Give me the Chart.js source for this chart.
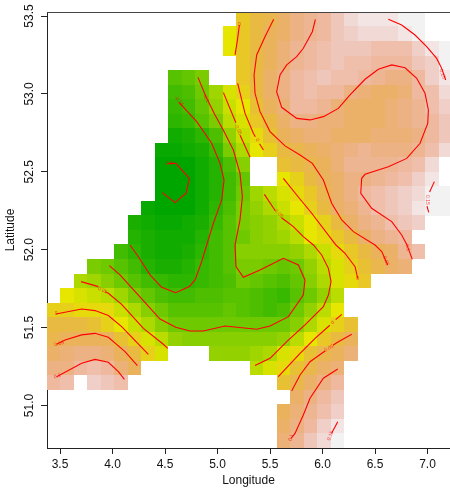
<!DOCTYPE html>
<html>
<head>
<meta charset="utf-8">
<style>html,body{margin:0;padding:0;background:#fff;overflow:hidden}canvas{display:block}</style>
<script src="https://cdn.jsdelivr.net/npm/chart.js@4/dist/chart.umd.min.js"></script>
</head>
<body>
<canvas id="map" width="450" height="489"></canvas>
<script>
// grid cell centres
const cellLons = [3.436,3.565,3.694,3.823,3.952,4.081,4.210,4.339,4.467,4.596,4.725,4.854,4.983,5.112,5.241,5.370,5.499,5.627,5.756,5.885,6.014,6.143,6.272,6.400,6.529,6.658,6.787,6.916,7.045,7.174]
const cellLats = [53.479,53.386,53.292,53.199,53.106,53.013,52.919,52.826,52.733,52.640,52.546,52.453,52.360,52.266,52.173,52.080,51.987,51.893,51.800,51.707,51.613,51.520,51.427,51.334,51.240,51.147,51.054,50.961,50.867,50.774]
const cellW = 0.1289
const cellH = 0.0933

// first filled column of each row
const rowStart = [14,13,13,14,9,9,9,9,9,8,8,8,8,7,6,6,5,3,2,1,0,0,0,0,0,0,18,17,17,17]
// cell values, in hundredths, read row by row from the top
const rowValues = [
  [1,3,4,6,8,9,10,12,14,15,15,15,16,18],
  [-2,1,3,5,6,8,9,10,12,13,14,14,14,15,16],
  [-2,1,3,5,7,9,10,11,12,12,12,11,11,11,13,15,17],
  [1,3,5,7,9,10,11,12,11,11,10,10,10,12,13,16],
  [-13,-12,-10,null,null,1,3,6,8,10,11,12,11,11,10,9,8,8,10,13,15],
  [-15,-14,-11,-7,-3,0,3,6,8,10,11,10,10,8,7,6,6,7,10,11,14],
  [-16,-15,-12,-8,-4,-2,2,5,7,10,10,9,7,6,6,6,7,8,9,11,13],
  [-17,-16,-13,-10,-5,-3,1,3,6,8,8,7,7,6,6,6,7,8,9,10,12],
  [-20,-19,-17,-14,-8,-4,-1,2,5,6,7,7,6,6,6,7,7,7,8,10,12],
  [-21,-21,-20,-19,-16,-10,-6,-2,0,3,4,5,6,7,8,9,8,8,8,9,11,14],
  [-22,-22,-22,-20,-18,-14,-9,null,null,2,3,4,5,7,9,9,9,9,10,11,14],
  [-22,-22,-22,-20,-18,-15,-12,null,null,-2,0,3,5,6,8,8,9,10,11,13,15],
  [-22,-22,-22,-20,-18,-15,-11,-7,-5,-3,-1,1,4,6,8,10,11,12,13,14,17,18],
  [-21,-22,-22,-22,-20,-17,-14,-10,-8,-6,-4,-2,0,3,6,7,9,11,12,13,15,17,18],
  [-19,-20,-21,-21,-20,-19,-16,-13,-10,-9,-8,-6,-4,-2,0,3,6,8,9,11,12,13],
  [-18,-19,-20,-20,-20,-18,-15,-13,-11,-9,-8,-7,-5,-2,-1,1,3,6,8,9,10],
  [-15,-17,-19,-20,-20,-19,-17,-15,-13,-9,-9,-9,-9,-8,-6,-4,-1,1,3,5,6,9,11],
  [-10,-11,-13,-15,-18,-19,-19,-18,-16,-15,-13,-10,-10,-11,-12,-11,-8,-5,-3,0,2,4,6,7],
  [-6,-7,-9,-11,-13,-15,-16,-17,-17,-16,-15,-14,-11,-12,-13,-14,-12,-9,-6,-3,-1,1],
  [-2,-3,-4,-5,-7,-10,-12,-14,-15,-15,-14,-14,-13,-13,-14,-15,-16,-13,-11,-8,-5],
  [0,0,-1,-1,-1,-4,-6,-9,-11,-13,-13,-13,-13,-12,-13,-14,-15,-14,-11,-8,-5,-2],
  [3,3,3,2,0,-2,-4,-6,-9,-11,-11,-11,-11,-11,-11,-11,-11,-11,-9,-6,-3,0,2],
  [4,5,5,5,5,2,0,-3,-5,-8,-9,-9,-9,-9,-9,-9,-9,-8,-5,-2,1,3,5],
  [6,7,8,8,7,5,3,0,-3,null,null,null,-8,-8,-8,-7,-6,-3,-1,2,4,5,7],
  [8,8,10,11,10,7,5,null,null,null,null,null,null,null,null,-5,-3,-1,2,4,6,7],
  [10,11,null,13,12,11,null,null,null,null,null,null,null,null,null,null,null,2,4,6,8,10],
  [6,8,10,12],
  [5,7,9,11,13],
  [6,8,10,13,15],
  [7,9,12,14,17]
]

// contour lines as [lon, lat]
const minus20 = [[4.532,52.554],[4.602,52.554],[4.732,52.458],[4.700,52.362],[4.595,52.302],[4.475,52.366]]
const minus15 = [[4.633,52.945],[4.802,52.822],[4.944,52.683],[5.024,52.554],[5.062,52.447],[5.040,52.319],[4.960,52.169],[4.897,52.030],[4.849,51.923],[4.786,51.806],[4.732,51.763],[4.602,51.724],[4.468,51.758],[4.357,51.838],[4.246,51.955],[4.167,52.030]]
const minus10 = [[4.814,53.106],[4.890,52.982],[4.976,52.865],[5.062,52.758],[5.151,52.640],[5.214,52.490],[5.237,52.340],[5.214,52.191],[5.167,52.030],[5.176,51.891],[5.246,51.823],[5.405,51.870],[5.627,51.945],[5.770,51.902],[5.833,51.806],[5.817,51.709],[5.675,51.570],[5.500,51.510],[5.373,51.489],[5.071,51.510],[4.865,51.478],[4.738,51.478],[4.602,51.502],[4.452,51.555],[4.246,51.709],[4.071,51.838],[3.970,51.898]]
const minus05a1 = [[5.056,53.008],[5.175,52.815]]
const minus05a2 = [[5.215,52.735],[5.310,52.593]]
const minus05b1 = [[5.446,52.355],[5.550,52.250]]
const minus05b2 = [[5.610,52.205],[5.722,52.148],[5.817,52.084],[5.913,52.030],[5.992,51.966],[6.056,51.880],[6.081,51.795],[6.056,51.709],[6.008,51.634],[5.833,51.517],[5.659,51.410],[5.500,51.303],[5.357,51.256]]
const minus05c1 = [[3.700,51.795],[3.865,51.763]]
const minus05c2 = [[3.930,51.730],[3.960,51.720],[4.087,51.649],[4.294,51.495],[4.484,51.393],[4.525,51.367]]
const zeroA = [[5.208,53.442],[5.192,53.357],[5.167,53.250]]
const zeroB1 = [[5.192,53.068],[5.262,52.875],[5.341,52.747],[5.360,52.725]]
const zeroB2 = [[5.400,52.680],[5.437,52.640]]
const zeroC = [[5.627,52.458],[5.754,52.351],[5.897,52.234],[6.128,52.030],[6.214,51.977],[6.310,51.891],[6.335,51.816]]
const zeroD1 = [[6.183,51.585],[6.125,51.551]]
const zeroD2 = [[6.070,51.515],[5.929,51.431],[5.786,51.335],[5.579,51.185]]
const zeroE = [[3.462,51.587],[3.706,51.619],[3.833,51.609],[3.960,51.577],[4.087,51.506],[4.341,51.328]]
const plus05a = [[5.535,53.479],[5.452,53.367],[5.373,53.250],[5.348,53.121],[5.357,53.004],[5.405,52.886],[5.500,52.758],[5.643,52.666],[5.786,52.608],[5.903,52.554],[6.008,52.447],[6.087,52.298],[6.183,52.191],[6.294,52.116],[6.500,52.030],[6.564,51.988],[6.620,51.902]]
const plus05b1 = [[6.278,51.457],[6.135,51.403],[6.100,51.387]]
const plus05b2 = [[6.024,51.350],[5.881,51.281],[5.786,51.196],[5.706,51.093]]
const plus05c = [[3.468,51.393],[3.548,51.420],[3.706,51.453],[3.833,51.463],[3.960,51.438],[4.119,51.346],[4.237,51.256]]
const plus10a = [[5.932,53.479],[5.903,53.399],[5.817,53.293],[5.754,53.239],[5.659,53.186],[5.595,53.121],[5.563,53.014],[5.611,52.914],[5.754,52.843],[5.881,52.833],[6.008,52.854],[6.151,52.907],[6.262,52.993],[6.405,53.094],[6.532,53.158],[6.659,53.186],[6.786,53.168],[6.897,53.100],[6.976,53.004],[7.008,52.897],[7.002,52.811],[6.929,52.683],[6.802,52.586],[6.627,52.533],[6.405,52.484],[6.373,52.458],[6.364,52.362],[6.468,52.266],[6.659,52.180],[6.754,52.094],[6.802,52.034],[6.855,51.938]]
const plus10b = [[6.145,51.234],[6.008,51.175],[5.881,51.046],[5.817,50.939],[5.738,50.821],[5.700,50.789]]
const plus10c = [[3.468,51.185],[3.706,51.271],[3.833,51.296],[3.960,51.277],[4.056,51.217],[4.113,51.168]]
const plus15a = [[6.627,53.479],[6.754,53.442],[6.881,53.378],[6.992,53.303],[7.087,53.228],[7.135,53.164],[7.173,53.089]]
const plus15b1 = [[7.065,52.437],[7.020,52.370]]
const plus15b2 = [[6.995,52.280],[7.011,52.240]]
const plus15c = [[6.145,50.896],[6.103,50.843],[6.085,50.820]]
const contours = [minus20,minus15,minus10,minus05a1,minus05a2,minus05b1,minus05b2,minus05c1,minus05c2,zeroA,zeroB1,zeroB2,zeroC,zeroD1,zeroD2,zeroE,plus05a,plus05b1,plus05b2,plus05c,plus10a,plus10b,plus10c,plus15a,plus15b1,plus15b2,plus15c]

// small labels on the contours: text, lon, lat, angle
const contourLabels = [
  ['-0.2',4.532,52.554,0],['-0.15',4.633,52.954,50],['-0.1',4.890,52.972,60],['-0.05',5.195,52.773,65],
  ['0',5.379,52.704,60],['0',5.208,53.442,0],['0.15',7.141,53.128,70],['0.15',7.002,52.319,90],
  ['-0.05',5.579,52.234,45],['0.05',6.605,51.928,70],['0.1',6.811,52.013,75],['0',6.335,51.816,0],
  ['0',6.097,51.532,-45],['0.05',6.062,51.367,-30],['0.1',5.700,50.794,-70],['0.15',6.075,50.806,-70],
  ['0',3.462,51.587,0],['-0.05',3.897,51.741,25],['0.05',3.492,51.397,-15],['0.1',3.475,51.189,-20]
]

const xTicks = [3.5,4,4.5,5,5.5,6,6.5,7]
const yTicks = [51,51.5,52,52.5,53,53.5]

// terrain.colors style ramp, value in hundredths
function terrain(v){
  let h, s, b
  if (v < -2) {
    let t = Math.max(0, (v + 22) / 20)
    h = 120 - 60 * t
    s = 1
    b = 0.65 + 0.25 * t
  } else {
    let u = Math.min(1, (v + 2) / 18)
    h = 60 - 60 * u
    s = 1 - u
    b = 0.9 + 0.05 * u
  }
  let f = n => {
    let k = (n + h / 60) % 6
    return Math.round(255 * (b - b * s * Math.max(0, Math.min(k, 4 - k, 1))))
  }
  return `rgb(${f(5)},${f(3)},${f(1)})`
}

const cellPlugin = {
  id: 'cells',
  beforeDatasetsDraw(chart){
    let {ctx, chartArea, scales:{x, y}} = chart
    ctx.save()
    ctx.beginPath()
    ctx.rect(chartArea.left, chartArea.top, chartArea.width, chartArea.height)
    ctx.clip()
    rowValues.forEach((row, r) => {
      row.forEach((v, i) => {
        if (v === null) return
        let lon = cellLons[rowStart[r] + i]
        let lat = cellLats[r]
        let x0 = Math.round(x.getPixelForValue(lon - cellW / 2))
        let x1 = Math.round(x.getPixelForValue(lon + cellW / 2))
        let y0 = Math.round(y.getPixelForValue(lat + cellH / 2))
        let y1 = Math.round(y.getPixelForValue(lat - cellH / 2))
        ctx.fillStyle = terrain(v)
        ctx.fillRect(x0, y0, x1 - x0, y1 - y0)
      })
    })
    ctx.restore()
  },
  afterDatasetsDraw(chart){
    let {ctx, scales:{x, y}} = chart
    ctx.save()
    ctx.font = '5px "Liberation Sans"'
    ctx.fillStyle = 'rgba(255,0,0,0.7)'
    ctx.textAlign = 'center'
    ctx.textBaseline = 'middle'
    contourLabels.forEach(l => {
      ctx.save()
      ctx.translate(x.getPixelForValue(l[1]), y.getPixelForValue(l[2]))
      ctx.rotate(l[3] * Math.PI / 180)
      ctx.fillText(l[0], 0, 0)
      ctx.restore()
    })
    ctx.restore()
  },
  afterDraw(chart){
    let {ctx, chartArea} = chart
    ctx.save()
    ctx.strokeStyle = '#444'
    ctx.lineWidth = 1
    ctx.beginPath()
    ctx.moveTo(chartArea.left, chartArea.top + 0.5)
    ctx.lineTo(chartArea.right, chartArea.top + 0.5)
    ctx.stroke()
    ctx.restore()
  }
}

const axisFont = {family: '"Liberation Sans"', size: 12}

new Chart(document.getElementById('map').getContext('2d'), {
  type: 'scatter',
  data: {
    datasets: contours.map(c => ({
      data: c.map(p => ({x: p[0], y: p[1]})),
      showLine: true,
      borderColor: '#ff0000',
      borderWidth: 1.1,
      pointRadius: 0,
      tension: 0
    }))
  },
  options: {
    responsive: false,
    animation: false,
    layout: {padding: {top: 12, right: 0, bottom: 0, left: 0}},
    plugins: {legend: {display: false}, tooltip: {enabled: false}},
    scales: {
      x: {
        type: 'linear',
        min: 3.376,
        max: 7.214,
        afterFit: s => { s.height = 41 },
        afterBuildTicks: s => { s.ticks = xTicks.map(v => ({value: v})) },
        grid: {drawOnChartArea: false, tickLength: 6, color: '#222'},
        border: {color: '#222'},
        ticks: {font: axisFont, color: '#111', padding: 3, maxRotation: 0, callback: v => v.toFixed(1)},
        title: {display: true, text: 'Longitude', font: axisFont, color: '#111', padding: {top: 0, bottom: 1}}
      },
      y: {
        type: 'linear',
        min: 50.727,
        max: 53.5257,
        afterFit: s => { s.width = 47 },
        afterBuildTicks: s => { s.ticks = yTicks.map(v => ({value: v})) },
        grid: {drawOnChartArea: false, tickLength: 6, color: '#222'},
        border: {color: '#222'},
        ticks: {font: axisFont, color: '#111', padding: 0, minRotation: 90, maxRotation: 90, crossAlign: 'center', callback: v => v.toFixed(1)},
        title: {display: true, text: 'Latitude', font: axisFont, color: '#111', padding: {top: 3, bottom: 0}}
      }
    }
  },
  plugins: [cellPlugin]
})
</script>
</body>
</html>
